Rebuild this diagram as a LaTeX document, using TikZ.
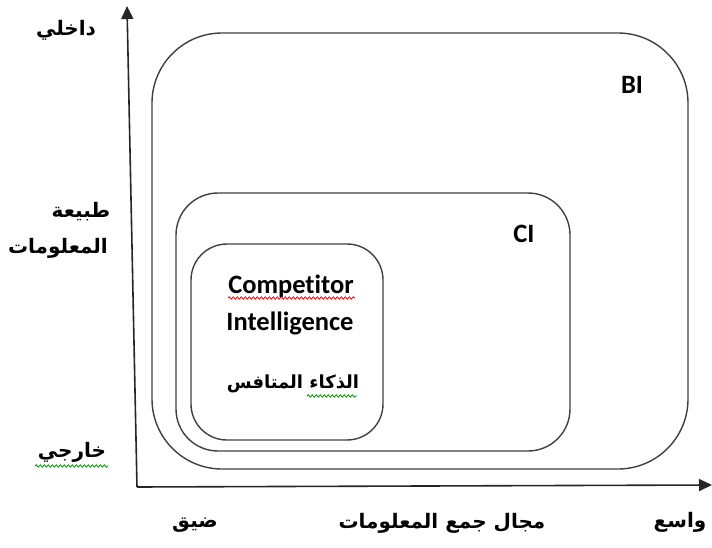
\documentclass[tikz,border=0pt]{standalone}
\usepackage{fontspec}
\setmainfont{Carlito}[Ligatures=NoCommon]
\newfontfamily\arabicfont[Script=Arabic]{DejaVu Sans}
\TeXXeTstate=1
\usetikzlibrary{arrows.meta,decorations.pathmorphing}
\begin{document}
\begin{tikzpicture}[x=1pt,y=-1pt,
  box/.style={draw=black!75, line width=1.4pt, inner sep=0pt},
  axis/.style={draw=black!85, line width=1.6pt, -{Triangle[length=13pt,width=12pt]}},
  ar/.style={font=\arabicfont\bfseries\fontsize{20}{24}\selectfont, inner sep=0pt},
  en/.style={font=\bfseries\fontsize{26.5}{30}\selectfont, inner sep=0pt},
  wavy/.style={line width=0.8pt, decorate, decoration={snake, amplitude=1.2pt, segment length=4pt}}]
\useasboundingbox (0,0) rectangle (712,548);
% boxes
\node[box, rounded corners=70pt, minimum width=536pt, minimum height=436pt] (bi) at (420,251) {};
\node[box, rounded corners=42pt, minimum width=394pt, minimum height=258pt] (ci) at (373,322) {};
\node[box, rounded corners=36pt, minimum width=192pt, minimum height=196pt] (cmp) at (287,342) {};
% axes
\coordinate (o) at (137,487);
\coordinate (ytip) at (127,6);
\coordinate (xtip) at (712,485);
\draw[axis] (o) -- (ytip);
\draw[axis] (o) -- (xtip);
% labels
\node[en] (bil) at (632,85) {BI};
\node[en] (cil) at (524,234) {CI};
\node[en] (comp) at (291,286) {Competitor};
\node[en] (intel) at (290,323) {Intelligence};
\node[ar, font=\arabicfont\bfseries\fontsize{18}{22}\selectfont] (arci) at (293,384) {\beginR الذكاء المتافس\endR};
\node[ar] (dakh) at (66,30) {\beginR داخلي\endR};
\node[ar] (tab) at (81,212) {\beginR طبيعة\endR};
\node[ar] (mal) at (58,248) {\beginR المعلومات\endR};
\node[ar] (khar) at (72,452) {\beginR خارجي\endR};
\node[ar] (day) at (195,525) {\beginR ضيق\endR};
\node[ar] (maj) at (442,523) {\beginR مجال جمع المعلومات\endR};
\node[ar] (was) at (680,522) {\beginR واسع\endR};
% spell-check underlines
\draw[wavy, red] (228,298) -- (355,298);
\draw[wavy, green!60!black] (307,396) -- (357,396);
\draw[wavy, green!60!black] (35,466) -- (108,466);
\end{tikzpicture}
\end{document}
